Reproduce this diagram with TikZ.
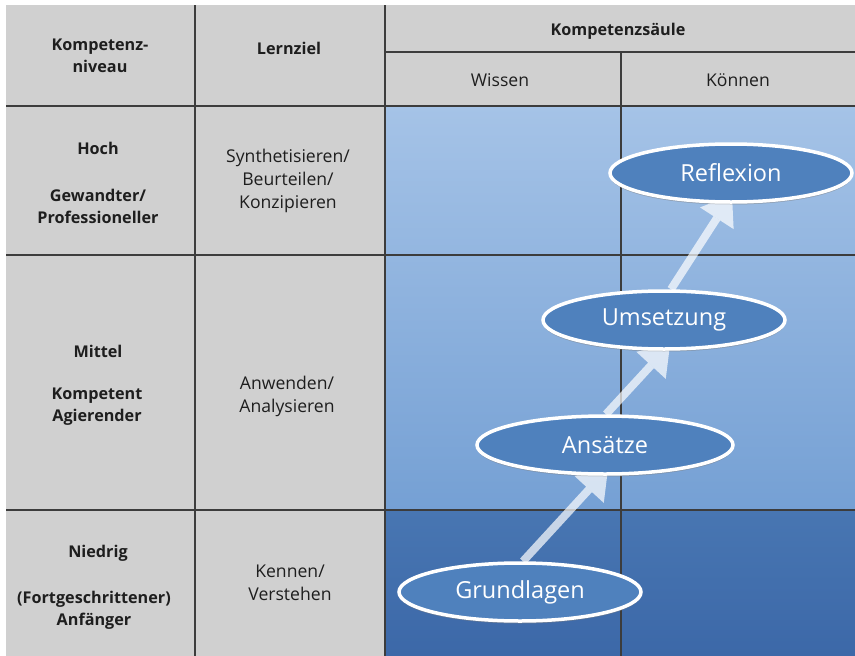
\documentclass[tikz,border=0pt]{standalone}
\usepackage{fontspec}
\setmainfont{Open Sans}
\usetikzlibrary{shapes.geometric,arrows.meta,shadows}
\definecolor{grayc}{RGB}{208,208,208}
\definecolor{gridc}{RGB}{60,60,60}
\definecolor{blueTop}{RGB}{165,195,231}
\definecolor{blueBot}{RGB}{117,160,212}
\definecolor{darkTop}{RGB}{72,118,178}
\definecolor{darkBot}{RGB}{60,104,168}
\definecolor{ellfill}{RGB}{79,129,189}
\definecolor{txt}{RGB}{30,30,30}
\tikzset{
  gridline/.style={draw=gridc, line width=1.2pt},
  hdr/.style={font=\fontsize{16.2}{22}\selectfont\bfseries, text=txt, align=center, inner sep=0pt},
  reg/.style={font=\fontsize{17.6}{23}\selectfont, text=txt, align=center, inner sep=0pt},
  stage/.style={ellipse, draw=white, line width=3.5pt, fill=ellfill, text=white,
    font=\fontsize{23.5}{26}\selectfont, minimum width=242pt, minimum height=58pt, inner sep=0pt,
    drop shadow={opacity=0.3, shadow xshift=0pt, shadow yshift=-2.5pt}},
  growarrow/.style={draw=white, draw opacity=0.7, fill opacity=0.7, line width=8pt,
    -{Triangle[width=40pt,length=28pt,line width=0pt,fill=white]}}
}
\begin{document}
\begin{tikzpicture}[x=1pt,y=-1pt]
\useasboundingbox (0,0) rectangle (855,656);
\fill[white] (0,0) rectangle (855,656);
% backgrounds
\fill[grayc] (6,5) rectangle (385,656);
\fill[grayc] (385,5) rectangle (855,106);
\shade[top color=blueTop, bottom color=blueBot] (385,106) rectangle (855,510);
\shade[top color=darkTop, bottom color=darkBot] (385,510) rectangle (855,656);
% grid
\draw[gridline] (195,5) -- (195,656);
\draw[gridline] (385,5) -- (385,656);
\draw[gridline] (621,52) -- (621,656);
\draw[gridline] (385,52) -- (855,52);
\draw[gridline] (6,106) -- (855,106);
\draw[gridline] (6,255) -- (855,255);
\draw[gridline] (6,510) -- (855,510);
% header texts
\node[hdr] (h1) at (100,56) {Kompetenz-\\niveau};
\node[hdr] (h2) at (289,48) {Lernziel};
\node[hdr] (h3) at (618,31) {Kompetenzsäule};
\node[reg] (h4) at (500,80) {Wissen};
\node[reg] (h5) at (738,80) {Können};
% row texts
\node[hdr] (r1a) at (98,148) {Hoch};
\node[hdr] (r1b) at (98,206) {Gewandter/\\Professioneller};
\node[reg] (r1c) at (288,181) {Synthetisieren/\\Beurteilen/\\Konzipieren};
\node[hdr] (r2a) at (98,351) {Mittel};
\node[hdr] (r2b) at (97,407) {Kompetent\\Agierender};
\node[reg] (r2c) at (287,396) {Anwenden/\\Analysieren};
\node[hdr] (r3a) at (98,553) {Niedrig};
\node[hdr] (r3b) at (94,610) {(Fortgeschrittener)\\Anfänger};
\node[reg] (r3c) at (290,583) {Kennen/\\Verstehen};
% stages
\coordinate (gc) at (520,592);
\coordinate (ac) at (605,445);
\coordinate (uc) at (664,320);
\coordinate (rc) at (731,173);
\node[stage, draw=none, fill=none, drop shadow={opacity=0}] (gpos) at (gc) {\phantom{Grundlagen}};
\node[stage, draw=none, fill=none, drop shadow={opacity=0}, minimum width=256pt] (apos) at (ac) {\phantom{Ansätze}};
\node[stage, draw=none, fill=none, drop shadow={opacity=0}] (upos) at (uc) {\phantom{Umsetzung}};
\node[stage, draw=none, fill=none, drop shadow={opacity=0}] (rpos) at (rc) {\phantom{Reflexion}};
\draw[growarrow] ([xshift=3pt]gpos.north) -- ([shift={(3pt,7pt)}]apos.south);
\draw[growarrow] ([xshift=1pt]apos.north) -- ([shift={(6pt,6pt)}]upos.south);
\draw[growarrow] ([xshift=7pt]upos.north) -- ([shift={(1pt,9pt)}]rpos.south);
\node[stage] (g) at (gc) {Grundlagen};
\node[stage, minimum width=256pt] (a) at (ac) {Ansätze};
\node[stage] (u) at (uc) {Umsetzung};
\node[stage] (r) at (rc) {Reflexion};
\end{tikzpicture}
\end{document}
